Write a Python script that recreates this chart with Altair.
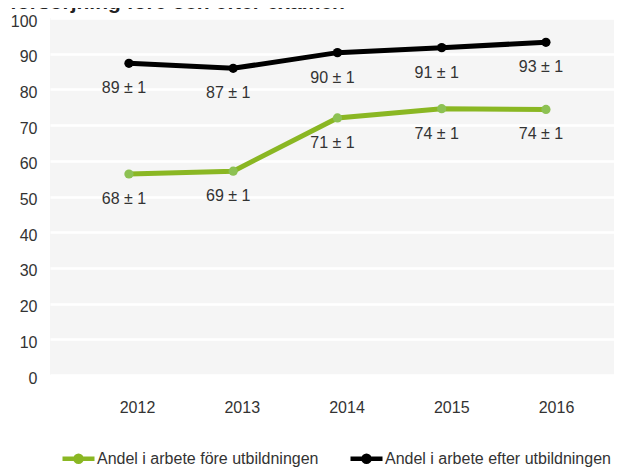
import altair as alt
import pandas as pd

years = ["2012", "2013", "2014", "2015", "2016"]
series_names = ["Andel i arbete före utbildningen", "Andel i arbete efter utbildningen"]
fore_values = [56.3, 57.1, 72.0, 74.6, 74.4]
efter_values = [87.3, 85.9, 90.3, 91.7, 93.2]
fore_labels = ["68 ± 1", "69 ± 1", "71 ± 1", "74 ± 1", "74 ± 1"]
efter_labels = ["89 ± 1", "87 ± 1", "90 ± 1", "91 ± 1", "93 ± 1"]
y_ticks = list(range(0, 101, 10))
title_text = "försörjning före och efter examen"

rows = []
for name, vals, labs in [(series_names[0], fore_values, fore_labels),
                         (series_names[1], efter_values, efter_labels)]:
    for yr, v, lab in zip(years, vals, labs):
        rows.append({"year": yr, "value": v, "label": lab, "series": name})
df = pd.DataFrame(rows)
df_years = pd.DataFrame({"year": years})

FONT = "Liberation Sans"
line_colors = ["#8ab723", "#000000"]
point_colors = ["#8dc153", "#000000"]

data_x = alt.X("year:O", scale=alt.Scale(type="point", padding=0.705, align=0.537), axis=None)
y_enc = alt.Y("value:Q", scale=alt.Scale(domain=[0, 100], nice=False),
              axis=alt.Axis(values=y_ticks, tickCount=11, title=None, domain=False, ticks=False,
                            grid=True, gridColor="#ffffff", gridWidth=2.5,
                            labelFont=FONT, labelFontSize=16, labelColor="#333333",
                            labelPadding=13, labelOffset=3, labelOverlap=False))

legend_path = "M-1,0L1,0M0.19,0A0.19,0.19,0,1,1,-0.19,0A0.19,0.19,0,1,1,0.19,0Z"

axis_layer = alt.Chart(df_years).mark_point(opacity=0).encode(
    x=alt.X("year:O", scale=alt.Scale(type="point", padding=0.692, align=0.6),
            axis=alt.Axis(title=None, domain=False, ticks=False, grid=False,
                          labelAngle=0, labelFont=FONT, labelFontSize=16,
                          labelColor="#333333", labelPadding=24))
)

line = alt.Chart(df).mark_line(strokeWidth=5).encode(
    x=data_x, y=y_enc,
    color=alt.Color("series:N", sort=series_names,
                    scale=alt.Scale(domain=series_names, range=line_colors),
                    legend=alt.Legend(title=None, orient="none", legendX=10, legendY=422,
                                      direction="horizontal", symbolType=legend_path,
                                      symbolSize=1024, symbolStrokeWidth=4.5,
                                      labelFont=FONT, labelFontSize=16, labelColor="#333333",
                                      labelLimit=400, labelOffset=0, columnPadding=22,
                                      padding=0))
)

points = alt.Chart(df).mark_point(filled=True, size=85, opacity=1, strokeWidth=0).encode(
    x=data_x, y=y_enc,
    fill=alt.Fill("series:N", scale=alt.Scale(domain=series_names, range=point_colors),
                  legend=None)
)

labels = alt.Chart(df).mark_text(dy=25, dx=-5, font=FONT, fontSize=16, color="#333333").encode(
    x=data_x, y=y_enc, text="label:N"
)

chart = alt.layer(axis_layer, alt.layer(line, points, labels)).resolve_scale(
    x="independent"
).properties(
    width=564, height=357,
    title=alt.Title(title_text, anchor="start", frame="group", offset=0, dx=-40, dy=17,
                    fontSize=21, fontWeight="bold", font=FONT, color="#222222",
                    baseline="alphabetic"),
    autosize=alt.AutoSizeParams(type="none"),
    padding={"left": 42, "top": 10, "right": 0, "bottom": 95},
).configure_view(fill="#f5f5f5", strokeWidth=0)

chart.save("out.html", embed_options={"renderer": "svg", "actions": False})
